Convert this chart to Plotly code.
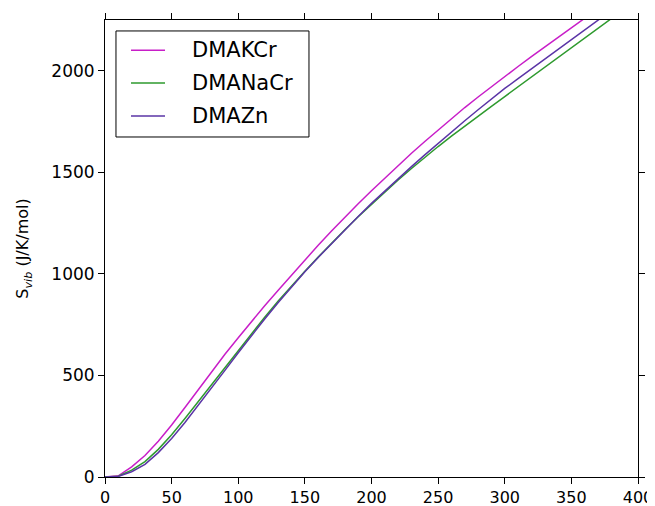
import plotly.graph_objects as go

# ---- data ----
temperature = [0, 10, 20, 30, 40, 50, 60, 70, 80, 90, 100, 110, 120, 130, 140, 150,
               160, 170, 180, 190, 200, 210, 220, 230, 240, 250, 260, 270, 280, 290,
               300, 310, 320, 330, 340, 350, 360, 370, 380, 390, 400]

s_dmakcr = [0, 6, 50, 106, 176, 256, 342, 430, 518, 604, 686, 766, 844, 920, 995, 1069,
            1141, 1211, 1279, 1345, 1409, 1472, 1534, 1594, 1652, 1709, 1765, 1819, 1871, 1922,
            1972, 2021, 2070, 2118, 2166, 2214, 2262, 2309, 2355, 2400, 2445]

s_dmanacr = [0, 4, 34, 76, 136, 208, 288, 372, 457, 542, 626, 708, 788, 866, 941, 1013,
             1083, 1151, 1217, 1281, 1343, 1403, 1462, 1519, 1574, 1627, 1678, 1728, 1777, 1825,
             1873, 1921, 1969, 2017, 2065, 2113, 2161, 2209, 2257, 2305, 2353]

s_dmazn = [0, 3, 26, 62, 120, 190, 268, 352, 438, 525, 612, 697, 779, 859, 936, 1010,
           1081, 1150, 1217, 1283, 1347, 1409, 1469, 1528, 1586, 1643, 1699, 1754, 1808, 1861,
           1913, 1961, 2009, 2057, 2105, 2153, 2201, 2249, 2297, 2345, 2393]

series_names = ["DMAKCr", "DMANaCr", "DMAZn"]
series_values = [s_dmakcr, s_dmanacr, s_dmazn]
series_colors = ["#c81ec8", "#2e9a2e", "#5a34a6"]

x_ticks = [0, 50, 100, 150, 200, 250, 300, 350, 400]
y_ticks = [0, 500, 1000, 1500, 2000]

FONT = "DejaVu Sans"

fig = go.Figure()
for name, vals, col in zip(series_names, series_values, series_colors):
    fig.add_trace(go.Scatter(x=temperature, y=vals, mode="lines", name=name,
                             line=dict(color=col, width=1.5), showlegend=False))

# manual legend (matplotlib-like box)
fig.add_shape(type="rect", xref="paper", yref="paper", x0=0.0206, x1=0.3827,
              y0=0.744, y1=0.976, line=dict(color="black", width=1),
              fillcolor="white", layer="above")
rows = [0.934, 0.862, 0.790]
for name, col, yy in zip(series_names, series_colors, rows):
    fig.add_shape(type="line", xref="paper", yref="paper", x0=0.0488, x1=0.1126,
                  y0=yy, y1=yy, line=dict(color=col, width=1.5), layer="above")
    fig.add_annotation(xref="paper", yref="paper", x=0.1595, y=yy, text=name,
                       showarrow=False, xanchor="left", yanchor="middle",
                       font=dict(family=FONT, size=21, color="black"))

axis_common = dict(showline=True, linecolor="black", linewidth=1, mirror="ticks",
                   ticks="outside", ticklen=6, tickwidth=1, tickcolor="black",
                   showgrid=False, zeroline=False, automargin=False)

fig.update_xaxes(range=[0, 400], tickvals=x_ticks, ticktext=[str(v) for v in x_ticks],
                 tickfont=dict(family=FONT, size=16, color="black"), **axis_common)
fig.update_yaxes(range=[0, 2250], tickvals=y_ticks, ticktext=[str(v) for v in y_ticks],
                 tickfont=dict(family=FONT, size=17, color="black"),
                 title=dict(text="S<sub><i>vib</i></sub> (J/K/mol)",
                            font=dict(family=FONT, size=16, color="black"), standoff=18),
                 **axis_common)

# the page's body has an 8px margin, so the margins below compensate for it
fig.update_layout(width=655, height=506, margin=dict(l=97, r=25, t=12, b=37),
                  plot_bgcolor="white", paper_bgcolor="white",
                  font=dict(family=FONT, color="black"))

fig.write_html("out.html")
